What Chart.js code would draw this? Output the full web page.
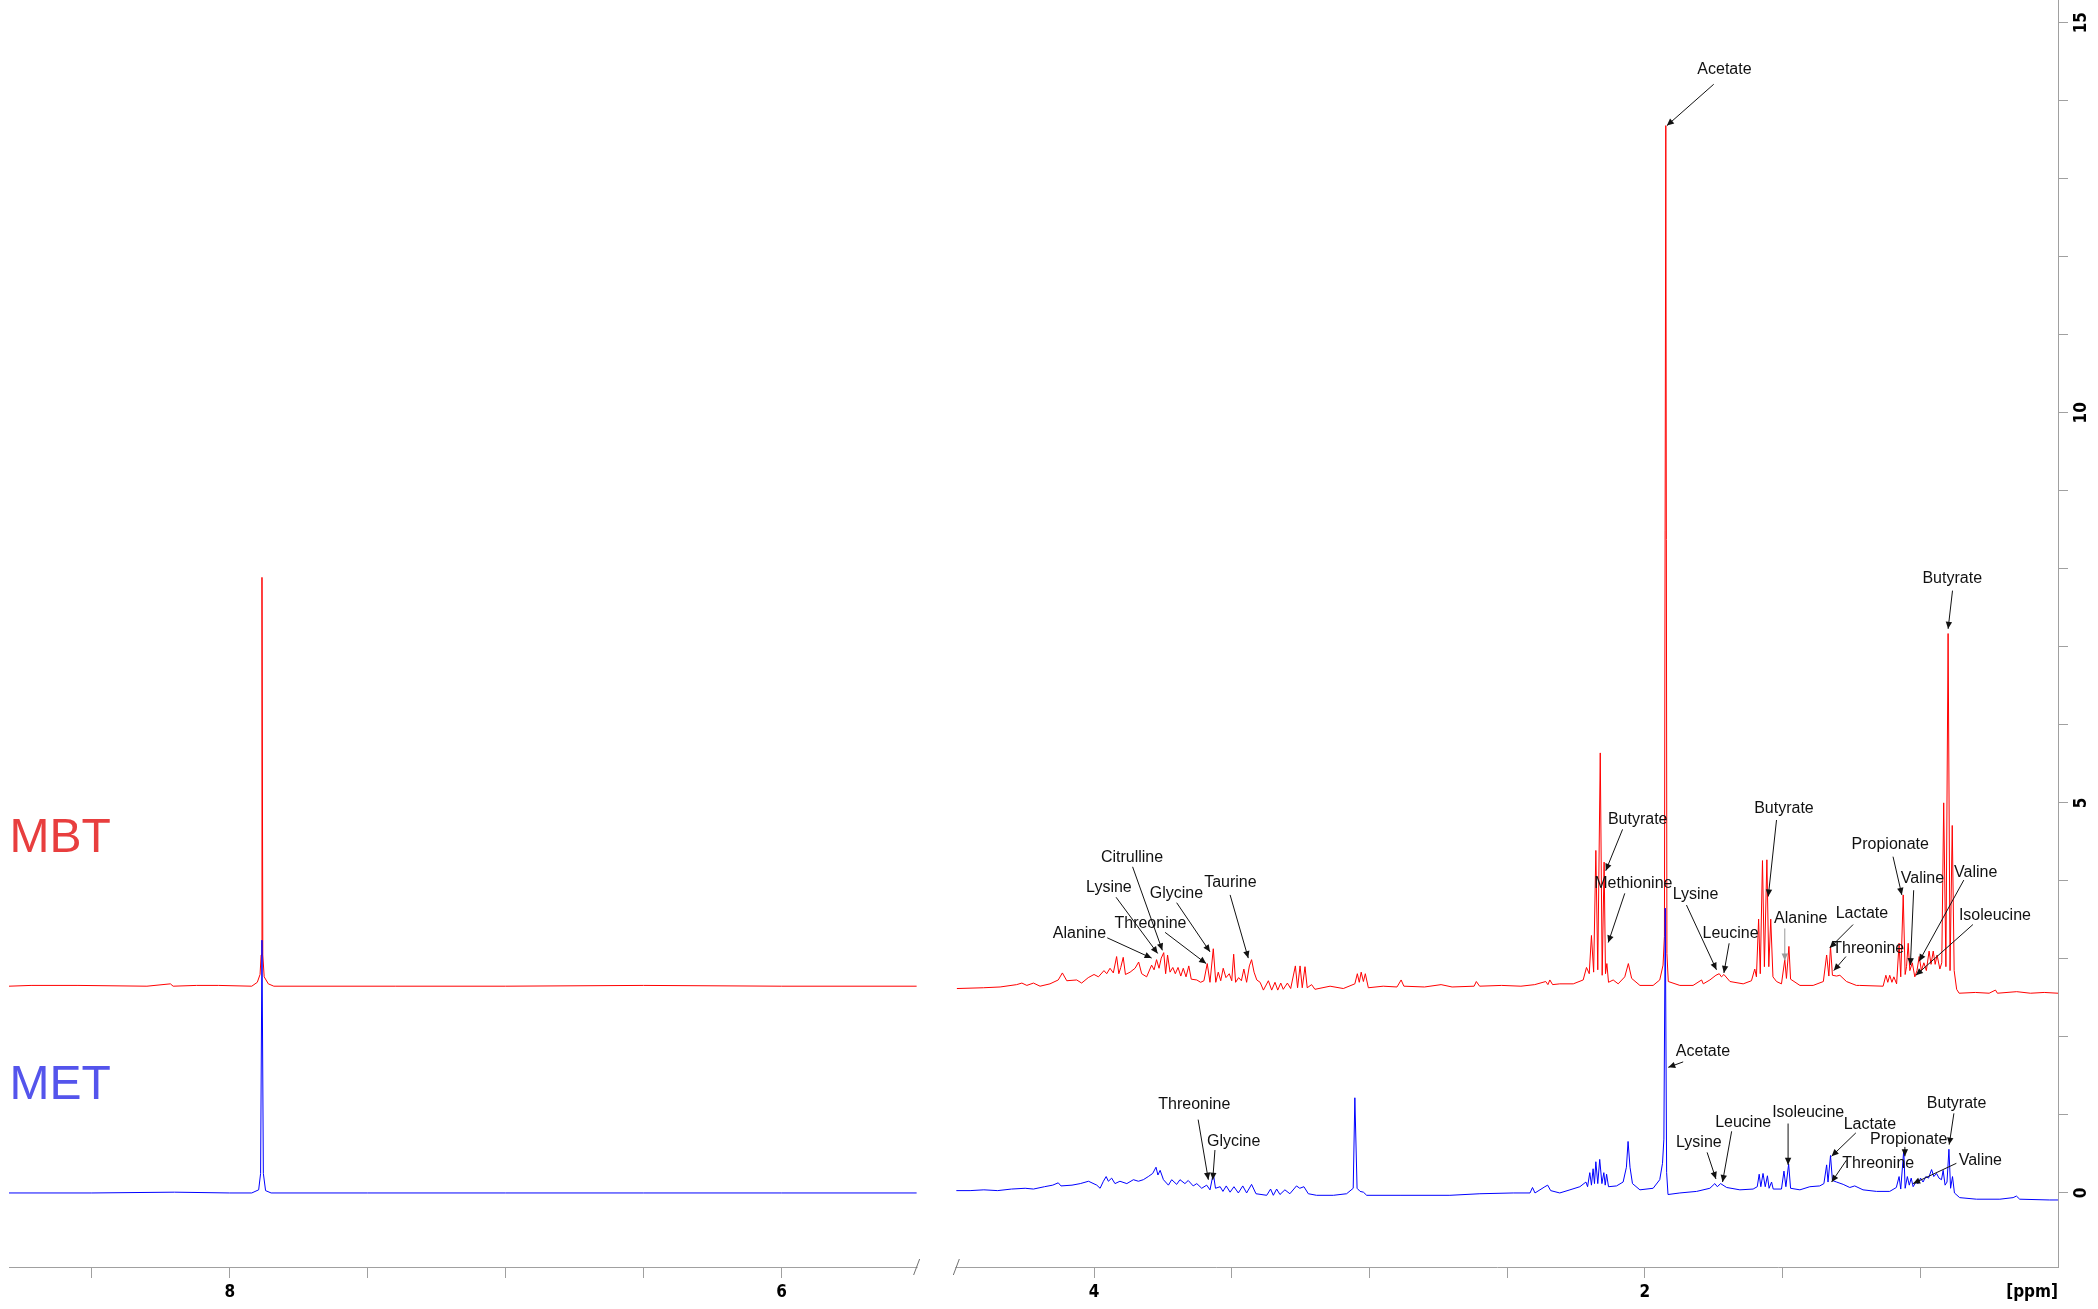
<!DOCTYPE html>
<html><head><meta charset="utf-8">
<script src="https://cdn.jsdelivr.net/npm/chart.js@4.4.0/dist/chart.umd.min.js"></script>
<style>html,body{margin:0;padding:0;background:#fff;overflow:hidden}#wrap{width:2098px;height:1309px;position:relative}</style>
</head><body><div id="wrap"><canvas id="c"></canvas></div>
<script>
// ---------- DATA (chemical shift in ppm, intensity) ----------
const MBT_OFFSET = 2.65;   // vertical offset of the MBT trace
const MET_OFFSET = 0;

const mbtLeftPpm = [8.80, 8.72, 8.55, 8.30, 8.215, 8.205, 8.12, 8.04, 7.92, 7.90, 7.89, 7.886, 7.883, 7.880, 7.875, 7.86, 7.84, 7.40, 7.00, 6.50, 6.00, 5.51];
const mbtLeftInt = [0.00, 0.01, 0.01, 0.00, 0.03, 0.00, 0.01, 0.01, 0.00, 0.05, 0.15, 0.40, 5.24, 0.40, 0.12, 0.03, 0.00, 0.00, 0.00, 0.01, 0.00, 0.00];

const mbtRightPpm = [4.498,4.402,4.341,4.281,4.262,4.244,4.220,4.196,4.160,4.130,4.115,4.099,4.063,4.045,4.021,4.000,3.984,3.964,3.954,3.942,3.930,3.918,3.910,3.903,3.894,3.886,3.869,3.851,3.838,3.827,3.809,3.791,3.782,3.773,3.764,3.756,3.747,3.740,3.733,3.724,3.714,3.705,3.695,3.685,3.676,3.666,3.656,3.647,3.627,3.613,3.601,3.589,3.579,3.567,3.558,3.549,3.540,3.531,3.521,3.509,3.500,3.493,3.486,3.475,3.465,3.456,3.446,3.436,3.428,3.419,3.409,3.397,3.385,3.367,3.355,3.343,3.333,3.322,3.313,3.298,3.286,3.269,3.261,3.252,3.244,3.234,3.226,3.210,3.198,3.143,3.095,3.053,3.044,3.037,3.030,3.022,3.015,3.004,2.950,2.900,2.885,2.875,2.800,2.740,2.700,2.620,2.612,2.600,2.520,2.450,2.400,2.360,2.352,2.345,2.335,2.309,2.260,2.224,2.212,2.202,2.194,2.186,2.178,2.171,2.162,2.155,2.148,2.143,2.138,2.132,2.115,2.097,2.073,2.060,2.048,2.018,1.970,1.946,1.934,1.929,1.924,1.920,1.915,1.873,1.825,1.794,1.788,1.764,1.742,1.730,1.722,1.713,1.691,1.643,1.613,1.601,1.595,1.587,1.581,1.573,1.566,1.557,1.550,1.543,1.535,1.522,1.504,1.492,1.486,1.477,1.471,1.437,1.389,1.352,1.340,1.332,1.326,1.319,1.304,1.292,1.268,1.232,1.220,1.135,1.125,1.118,1.111,1.103,1.096,1.086,1.077,1.071,1.062,1.055,1.050,1.044,1.038,1.029,1.020,1.012,1.004,0.996,0.987,0.978,0.968,0.961,0.953,0.946,0.939,0.929,0.922,0.915,0.907,0.899,0.892,0.884,0.877,0.868,0.859,0.800,0.750,0.727,0.720,0.650,0.600,0.550,0.500];
const mbtRightInt = [-0.03,-0.02,-0.01,0.02,0.04,0.01,0.04,0.00,0.03,0.08,0.17,0.07,0.08,0.04,0.11,0.15,0.12,0.20,0.16,0.23,0.17,0.38,0.16,0.24,0.37,0.15,0.18,0.23,0.31,0.16,0.12,0.27,0.21,0.34,0.23,0.36,0.43,0.16,0.40,0.18,0.24,0.16,0.24,0.13,0.23,0.12,0.26,0.09,0.08,0.05,0.07,0.29,0.05,0.48,0.05,0.18,0.07,0.23,0.11,0.16,0.07,0.41,0.05,0.11,0.07,0.22,0.05,0.26,0.34,0.18,0.08,0.05,-0.05,0.07,-0.05,0.05,-0.05,0.04,-0.04,0.04,-0.03,0.26,-0.02,0.26,-0.02,0.25,-0.02,0.02,-0.04,0.00,-0.03,0.03,0.16,0.05,0.18,0.06,0.16,-0.02,0.00,-0.01,0.08,0.00,-0.01,0.02,-0.01,0.00,0.06,0.00,0.01,0.00,0.02,0.06,0.02,0.08,0.02,0.03,0.03,0.08,0.24,0.16,0.65,0.18,1.74,0.21,2.99,0.14,1.59,0.16,0.29,0.05,0.08,0.03,0.12,0.29,0.10,0.01,0.01,0.08,0.27,0.64,11.03,0.42,0.06,0.01,0.01,0.08,0.03,0.08,0.14,0.16,0.12,0.15,0.06,0.03,0.07,0.22,0.12,0.86,0.16,1.61,0.25,1.62,0.25,0.86,0.12,0.06,0.03,0.34,0.10,0.51,0.09,0.01,0.01,0.06,0.40,0.13,0.51,0.14,0.13,0.14,0.06,0.01,0.01,0.00,0.14,0.05,0.14,0.05,0.12,0.03,0.55,0.12,1.17,0.15,0.25,0.55,0.20,0.30,0.12,0.20,0.38,0.20,0.30,0.20,0.45,0.28,0.45,0.28,0.40,0.22,0.30,2.35,0.25,4.52,0.20,2.06,0.20,-0.04,-0.09,-0.08,-0.09,-0.05,-0.09,-0.07,-0.09,-0.08,-0.09];

const metLeftPpm = [8.80, 8.50, 8.20, 8.00, 7.92, 7.895, 7.888, 7.883, 7.878, 7.870, 7.850, 7.50, 7.00, 6.50, 6.00, 5.51];
const metLeftInt = [0.00, 0.00, 0.01, 0.00, 0.00, 0.04, 0.25, 3.24, 0.25, 0.03, 0.00, 0.00, 0.00, 0.00, 0.00, 0.00];

const metRightPpm = [4.500,4.450,4.400,4.350,4.300,4.250,4.220,4.180,4.150,4.130,4.120,4.080,4.050,4.020,3.990,3.978,3.966,3.956,3.948,3.936,3.924,3.906,3.881,3.857,3.839,3.821,3.803,3.787,3.775,3.768,3.760,3.748,3.730,3.718,3.700,3.688,3.670,3.658,3.640,3.627,3.609,3.591,3.579,3.567,3.559,3.542,3.532,3.520,3.506,3.492,3.476,3.460,3.446,3.428,3.412,3.373,3.359,3.349,3.337,3.325,3.307,3.289,3.265,3.253,3.238,3.222,3.192,3.131,3.083,3.059,3.053,3.045,3.034,3.022,3.010,2.889,2.708,2.599,2.478,2.417,2.408,2.399,2.363,2.353,2.342,2.309,2.272,2.236,2.214,2.208,2.200,2.194,2.188,2.183,2.178,2.171,2.164,2.156,2.149,2.144,2.139,2.132,2.103,2.079,2.067,2.061,2.054,2.045,2.018,1.970,1.946,1.936,1.931,1.926,1.921,1.916,1.873,1.812,1.764,1.746,1.737,1.725,1.703,1.655,1.607,1.592,1.585,1.579,1.571,1.563,1.555,1.549,1.540,1.534,1.504,1.495,1.488,1.478,1.471,1.437,1.401,1.365,1.350,1.340,1.335,1.326,1.319,1.304,1.280,1.256,1.238,1.208,1.159,1.111,1.087,1.077,1.071,1.060,1.055,1.047,1.040,1.033,1.026,1.016,1.008,0.999,0.990,0.980,0.970,0.959,0.951,0.941,0.932,0.923,0.917,0.910,0.903,0.896,0.890,0.883,0.876,0.857,0.796,0.711,0.663,0.651,0.639,0.530,0.500];
const metRightInt = [0.03,0.03,0.04,0.03,0.05,0.06,0.05,0.08,0.10,0.13,0.09,0.10,0.12,0.15,0.10,0.06,0.15,0.21,0.15,0.19,0.12,0.15,0.12,0.17,0.15,0.17,0.21,0.25,0.33,0.23,0.29,0.17,0.10,0.17,0.11,0.17,0.12,0.16,0.09,0.12,0.06,0.10,0.04,0.25,0.06,0.08,0.02,0.09,0.01,0.08,0.00,0.09,0.00,0.11,-0.01,-0.03,0.05,-0.03,0.05,-0.02,0.04,-0.01,0.09,0.06,0.08,-0.01,-0.03,-0.03,-0.01,0.06,1.22,0.06,0.02,0.01,-0.03,-0.03,-0.03,-0.01,0.00,0.00,0.07,0.00,0.08,0.10,0.03,0.00,0.04,0.08,0.14,0.08,0.26,0.10,0.31,0.12,0.40,0.12,0.43,0.12,0.26,0.10,0.24,0.08,0.09,0.14,0.33,0.66,0.33,0.12,0.04,0.06,0.17,0.38,0.69,3.65,0.26,-0.02,0.00,0.02,0.06,0.12,0.08,0.12,0.07,0.04,0.05,0.08,0.24,0.08,0.25,0.08,0.22,0.06,0.14,0.05,0.05,0.28,0.08,0.37,0.06,0.04,0.08,0.09,0.12,0.36,0.14,0.48,0.16,0.14,0.11,0.07,0.09,0.04,0.02,0.02,0.07,0.21,0.05,0.55,0.06,0.21,0.10,0.19,0.08,0.14,0.12,0.19,0.14,0.21,0.19,0.30,0.21,0.25,0.19,0.17,0.29,0.10,0.14,0.56,0.06,0.21,0.00,-0.06,-0.08,-0.08,-0.06,-0.04,-0.08,-0.09,-0.09];

// axis ticks (ppm / intensity) and which of them carry a label
const leftTicks = [8.5, 8, 7.5, 7, 6.5, 6];
const rightTicks = [4, 3.5, 3, 2.5, 2, 1.5, 1];
const yTicks = [0, 1, 2, 3, 4, 5, 6, 7, 8, 9, 10, 11, 12, 13, 14, 15];
const labelledPpm = [8, 6, 4, 2];
const labelledIntensity = [0, 5, 10, 15];

// metabolite annotations: text centre (tx,ty), arrow from (ax,ay) to (bx,by)
const ANNOTATIONS = [
  {t:'Acetate', tx:1.711, ty:14.40, ax:1.750, ay:14.21, bx:1.920, by:13.68},
  {t:'Butyrate', tx:2.026, ty:4.78, ax:2.081, ay:4.66, bx:2.142, by:4.13},
  {t:'Methionine', tx:2.042, ty:3.97, ax:2.073, ay:3.84, bx:2.133, by:3.21},
  {t:'Lysine', tx:1.816, ty:3.83, ax:1.849, ay:3.69, bx:1.740, by:2.86},
  {t:'Leucine', tx:1.689, ty:3.33, ax:1.694, ay:3.20, bx:1.713, by:2.82},
  {t:'Butyrate', tx:1.495, ty:4.92, ax:1.522, ay:4.78, bx:1.552, by:3.80},
  {t:'Alanine', tx:1.434, ty:3.52, ax:1.492, ay:3.39, bx:1.492, by:2.98, c:'#9a9a9a'},
  {t:'Lactate', tx:1.212, ty:3.58, ax:1.244, ay:3.44, bx:1.329, by:3.14},
  {t:'Threonine', tx:1.189, ty:3.13, ax:1.270, ay:3.03, bx:1.314, by:2.85},
  {t:'Propionate', tx:1.109, ty:4.47, ax:1.099, ay:4.31, bx:1.067, by:3.82},
  {t:'Valine', tx:0.992, ty:4.03, ax:1.024, ay:3.88, bx:1.036, by:2.92},
  {t:'Valine', tx:0.799, ty:4.10, ax:0.842, ay:4.01, bx:1.004, by:2.97},
  {t:'Isoleucine', tx:0.729, ty:3.56, ax:0.809, ay:3.44, bx:1.016, by:2.79},
  {t:'Butyrate', tx:0.884, ty:7.87, ax:0.883, ay:7.72, bx:0.899, by:7.23},
  {t:'Citrulline', tx:3.862, ty:4.30, ax:3.860, ay:4.18, bx:3.752, by:3.11},
  {t:'Lysine', tx:3.946, ty:3.92, ax:3.920, ay:3.79, bx:3.769, by:3.07},
  {t:'Glycine', tx:3.701, ty:3.84, ax:3.700, ay:3.72, bx:3.579, by:3.09},
  {t:'Taurine', tx:3.505, ty:3.98, ax:3.506, ay:3.82, bx:3.440, by:3.01},
  {t:'Threonine', tx:3.795, ty:3.45, ax:3.742, ay:3.34, bx:3.593, by:2.94},
  {t:'Alanine', tx:4.053, ty:3.32, ax:3.952, ay:3.27, bx:3.791, by:3.01},
  {t:'Acetate', tx:1.789, ty:1.81, ax:1.861, ay:1.68, bx:1.915, by:1.61},
  {t:'Lysine', tx:1.804, ty:0.64, ax:1.774, ay:0.52, bx:1.742, by:0.18},
  {t:'Leucine', tx:1.643, ty:0.90, ax:1.685, ay:0.79, bx:1.718, by:0.14},
  {t:'Isoleucine', tx:1.407, ty:1.03, ax:1.480, ay:0.89, bx:1.480, by:0.36},
  {t:'Lactate', tx:1.183, ty:0.88, ax:1.234, ay:0.77, bx:1.322, by:0.47},
  {t:'Threonine', tx:1.153, ty:0.37, ax:1.268, ay:0.42, bx:1.322, by:0.14},
  {t:'Propionate', tx:1.042, ty:0.69, ax:1.056, ay:0.59, bx:1.056, by:0.47},
  {t:'Butyrate', tx:0.868, ty:1.15, ax:0.878, ay:1.02, bx:0.895, by:0.62},
  {t:'Valine', tx:0.782, ty:0.42, ax:0.869, ay:0.38, bx:1.026, by:0.12},
  {t:'Threonine', tx:3.636, ty:1.13, ax:3.622, ay:0.94, bx:3.585, by:0.17},
  {t:'Glycine', tx:3.493, ty:0.66, ax:3.561, ay:0.55, bx:3.569, by:0.17}
];
const SERIES_LABELS = [
  {t:'MBT', ppm:8.798, v:4.37, color:'rgb(232,62,62)'},
  {t:'MET', ppm:8.798, v:1.20, color:'rgb(84,84,236)'}
];

// ---------- BUILD ----------
const toPts = (ppm, val, off) => ppm.map((p, i) => ({x: p, y: val[i] + off}));
const RED = 'rgb(255,0,0)', BLUE = 'rgb(0,0,255)';
const TICK_FONT = {family: "'Liberation Sans Narrow','DejaVu Sans Condensed','Liberation Sans',Arial,sans-serif", size: 17, weight: 'bold'};

const lineDs = (label, data, color, axis) => ({
  label, data, xAxisID: axis, yAxisID: 'y', showLine: true, borderColor: color,
  borderWidth: 1, pointRadius: 0, tension: 0, fill: false
});

const xScale = (lo, hi, weight, tickList) => ({
  type: 'linear', position: 'bottom', stack: 'ppm', stackWeight: weight, reverse: true,
  min: lo, max: hi, bounds: 'data',
  grid: {drawOnChartArea: false, drawTicks: true, tickLength: 11, tickColor: '#a0a0a0', tickWidth: 1},
  border: {display: true, color: '#a0a0a0', width: 1},
  ticks: {autoSkip: false, maxRotation: 0, font: TICK_FONT, color: '#000', padding: 4,
    callback: v => labelledPpm.includes(v) ? String(v) : ''},
  afterBuildTicks: s => { s.ticks = tickList.map(v => ({value: v})); },
  afterFit: s => { s.height = 42; s.paddingLeft = 0; s.paddingRight = 0; }
});

const annotPlugin = {
  id: 'annot',
  afterDatasetsDraw(chart) {
    const ctx = chart.ctx, xs = chart.scales.xR, ys = chart.scales.y, xl = chart.scales.xL;
    ctx.save();
    ctx.font = '16px "Liberation Sans", Arial, sans-serif';
    ctx.textAlign = 'center'; ctx.textBaseline = 'middle';
    for (const a of ANNOTATIONS) {
      ctx.fillStyle = '#111';
      ctx.fillText(a.t, xs.getPixelForValue(a.tx), ys.getPixelForValue(a.ty));
      const x1 = xs.getPixelForValue(a.ax), y1 = ys.getPixelForValue(a.ay);
      const x2 = xs.getPixelForValue(a.bx), y2 = ys.getPixelForValue(a.by);
      const col = a.c || '#111';
      ctx.strokeStyle = col; ctx.fillStyle = col; ctx.lineWidth = 1;
      ctx.beginPath(); ctx.moveTo(x1, y1); ctx.lineTo(x2, y2); ctx.stroke();
      const ang = Math.atan2(y2 - y1, x2 - x1), L = 7, W = 3.2;
      ctx.beginPath();
      ctx.moveTo(x2, y2);
      ctx.lineTo(x2 - L * Math.cos(ang) + W * Math.sin(ang), y2 - L * Math.sin(ang) - W * Math.cos(ang));
      ctx.lineTo(x2 - L * Math.cos(ang) - W * Math.sin(ang), y2 - L * Math.sin(ang) + W * Math.cos(ang));
      ctx.closePath(); ctx.fill();
    }
    ctx.font = '48px "Liberation Sans", Arial, sans-serif';
    ctx.textAlign = 'left'; ctx.textBaseline = 'alphabetic';
    for (const s of SERIES_LABELS) {
      ctx.fillStyle = s.color;
      ctx.fillText(s.t, xl.getPixelForValue(s.ppm), ys.getPixelForValue(s.v));
    }
    ctx.restore();
  },
  afterDraw(chart) {
    const ctx = chart.ctx, xl = chart.scales.xL, xr = chart.scales.xR, area = chart.chartArea;
    const g1 = xl.getPixelForValue(xl.min + 0.072), g2 = xr.getPixelForValue(xr.max - 0.072);
    const yb = area.bottom;
    ctx.save();
    ctx.fillStyle = '#fff';
    ctx.fillRect(g1 + 1, yb - 3, g2 - g1 - 2, 6);
    ctx.strokeStyle = '#707070'; ctx.lineWidth = 1;
    for (const gx of [g1, g2]) {
      ctx.beginPath(); ctx.moveTo(gx - 3, yb + 8); ctx.lineTo(gx + 3, yb - 8); ctx.stroke();
    }
    ctx.font = 'bold 17px ' + TICK_FONT.family;
    ctx.fillStyle = '#000'; ctx.textAlign = 'right'; ctx.textBaseline = 'middle';
    ctx.fillText('[ppm]', area.right, yb + 26);
    ctx.restore();
  }
};

new Chart(document.getElementById('c'), {
  type: 'scatter',
  data: {datasets: [
    lineDs('MET', toPts(metLeftPpm, metLeftInt, MET_OFFSET), BLUE, 'xL'),
    lineDs('MET', toPts(metRightPpm, metRightInt, MET_OFFSET), BLUE, 'xR'),
    lineDs('MBT', toPts(mbtLeftPpm, mbtLeftInt, MBT_OFFSET), RED, 'xL'),
    lineDs('MBT', toPts(mbtRightPpm, mbtRightInt, MBT_OFFSET), RED, 'xR')
  ]},
  options: {
    responsive: true, maintainAspectRatio: false, animation: false, devicePixelRatio: 1,
    layout: {padding: {left: 9, right: 0, top: 0, bottom: 0}},
    plugins: {legend: {display: false}, tooltip: {enabled: false}},
    scales: {
      xL: xScale(5.438, 8.80, 927.5, leftTicks),
      xR: xScale(0.50, 4.572, 1121.5, rightTicks),
      y: {
        type: 'linear', position: 'right', min: -0.949, max: 15.29, bounds: 'data',
        grid: {drawOnChartArea: false, drawTicks: true, tickLength: 10, tickColor: '#a0a0a0'},
        border: {display: true, color: '#a0a0a0', width: 1},
        ticks: {autoSkip: false, minRotation: 90, maxRotation: 90, crossAlign: 'center',
          padding: 3, font: TICK_FONT, color: '#000',
          callback: v => labelledIntensity.includes(v) ? String(v) : ''},
        afterBuildTicks: s => { s.ticks = yTicks.map(v => ({value: v})); },
        afterFit: s => { s.width = 40; s.paddingTop = 0; s.paddingBottom = 0; }
      }
    }
  },
  plugins: [annotPlugin]
});
</script></body></html>
